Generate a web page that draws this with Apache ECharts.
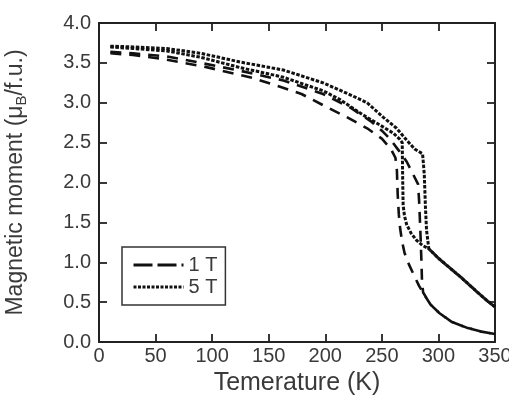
<!DOCTYPE html>
<html>
<head>
<meta charset="utf-8">
<title>Magnetic moment vs temperature</title>
<script src="https://cdn.jsdelivr.net/npm/echarts@6/dist/echarts.min.js"></script>
<style>
  html, body { margin: 0; padding: 0; background: #fff; }
  #chart { width: 509px; height: 397px; }
</style>
</head>
<body>
<div id="chart"></div>
<script>
// 1 T, cooling branch (lower dashed curve)
const temp1TCool = [10, 30, 60, 94, 136, 160, 179, 198, 219, 237, 250, 258, 262, 263.3, 264, 265, 266.2, 268, 270, 274, 278, 283, 288, 293, 301, 312, 325, 338, 350];
const moment1TCool = [3.62, 3.60, 3.54, 3.45, 3.31, 3.20, 3.11, 2.97, 2.82, 2.68, 2.55, 2.42, 2.31, 2.15, 1.85, 1.60, 1.42, 1.25, 1.12, 0.97, 0.85, 0.70, 0.58, 0.47, 0.36, 0.25, 0.18, 0.13, 0.10];

// 1 T, heating branch (upper dashed curve)
const temp1THeat = [10, 30, 60, 90, 125, 163, 198, 222, 240, 250, 257, 265, 272, 277, 282, 283, 284, 285, 285.5, 286.5, 293, 301, 312, 325, 338, 350];
const moment1THeat = [3.64, 3.62, 3.58, 3.50, 3.40, 3.28, 3.11, 2.94, 2.77, 2.65, 2.55, 2.40, 2.26, 2.12, 1.98, 1.75, 1.40, 1.00, 0.75, 0.62, 0.47, 0.36, 0.25, 0.18, 0.13, 0.10];

// 5 T, cooling branch
const temp5TCool = [10, 30, 60, 90, 125, 163, 198, 213, 233, 246, 260, 266, 268, 268.4, 268.8, 270, 272, 276, 281, 286, 291.5, 300, 310, 320, 334, 342, 350];
const moment5TCool = [3.70, 3.68, 3.65, 3.57, 3.44, 3.32, 3.15, 3.04, 2.85, 2.74, 2.62, 2.54, 2.50, 2.05, 1.72, 1.58, 1.47, 1.36, 1.27, 1.21, 1.17, 1.05, 0.93, 0.81, 0.63, 0.53, 0.44];

// 5 T, heating branch (top dotted curve)
const temp5THeat = [10, 30, 60, 90, 125, 163, 198, 222, 237, 251, 263, 272, 279, 286, 287.5, 288.5, 289.5, 291.5, 300, 310, 320, 334, 342, 350];
const moment5THeat = [3.71, 3.70, 3.68, 3.62, 3.51, 3.41, 3.25, 3.10, 3.00, 2.82, 2.68, 2.53, 2.42, 2.36, 2.10, 1.70, 1.40, 1.17, 1.05, 0.93, 0.81, 0.63, 0.53, 0.44];

const legendNames = ['1 T', '5 T'];

(function() {
  'use strict';

  const font = '"Liberation Sans", Arial, sans-serif';
  const ink = '#111';
  const textColor = '#3a3a3a';

  function zip(xs, ys) {
    return xs.map(function(x, i) { return [x, ys[i]]; });
  }

  const dashed = { color: ink, width: 2.6, type: [11, 8] };
  const dotted = { color: ink, width: 3, type: [3.5, 1.6] };

  function curve(name, xs, ys, style) {
    return {
      name: name,
      type: 'line',
      symbol: 'none',
      data: zip(xs, ys),
      lineStyle: style,
      itemStyle: { color: ink },
      z: 3
    };
  }

  // 刻度朝内，四边都有
  const tick = { show: true, inside: true, length: 8, lineStyle: { color: '#222', width: 1.8 } };
  const line = { show: true, onZero: false, lineStyle: { color: '#222', width: 2 } };
  const hidden = { color: 'rgba(0,0,0,0)', borderWidth: 0, opacity: 0 };

  const chart = echarts.init(document.getElementById('chart'));

  const option = {
    animation: false,
    backgroundColor: '#fff',
    grid: { left: 99, right: 14, top: 23, bottom: 55, outerBoundsMode: 'none', containLabel: false },
    legend: {
      orient: 'vertical',
      left: 122,
      top: 247,
      padding: [8, 8, 8, 10],
      itemWidth: 50,
      itemHeight: 14,
      itemGap: 2,
      borderColor: '#333',
      borderWidth: 1.5,
      textStyle: { fontSize: 20, fontFamily: font, color: textColor },
      data: [
        { name: legendNames[0], itemStyle: hidden, lineStyle: { width: 3, type: [19, 5] } },
        { name: legendNames[1], itemStyle: hidden, lineStyle: { width: 3, type: [3, 1.5] } }
      ]
    },
    xAxis: [{
      type: 'value',
      min: 0,
      max: 350,
      interval: 50,
      name: 'Temerature (K)',
      nameLocation: 'middle',
      nameGap: 28,
      nameTextStyle: { fontSize: 25, fontFamily: font, color: textColor },
      axisLine: line,
      axisTick: tick,
      splitLine: { show: false },
      axisLabel: { fontSize: 20, fontFamily: font, color: textColor, margin: 4 }
    }, {
      type: 'value',
      position: 'top',
      min: 0,
      max: 350,
      interval: 50,
      axisLine: line,
      axisTick: tick,
      splitLine: { show: false },
      axisLabel: { show: false }
    }],
    yAxis: [{
      type: 'value',
      min: 0,
      max: 4,
      interval: 0.5,
      name: '{a|Magnetic moment (μ}{b|B}{a|/f.u.)}',
      nameLocation: 'middle',
      nameRotate: 90,
      nameGap: 70,
      nameTextStyle: {
        fontSize: 23,
        fontFamily: font,
        color: textColor,
        rich: {
          a: { fontSize: 23, fontFamily: font, color: textColor, lineHeight: 26 },
          b: { fontSize: 15, fontFamily: font, color: textColor, lineHeight: 14, verticalAlign: 'bottom' }
        }
      },
      axisLine: line,
      axisTick: tick,
      splitLine: { show: false },
      axisLabel: {
        fontSize: 20,
        fontFamily: font,
        color: textColor,
        margin: 8,
        formatter: function(v) { return v.toFixed(1); }
      }
    }, {
      type: 'value',
      position: 'right',
      min: 0,
      max: 4,
      interval: 0.5,
      axisLine: line,
      axisTick: tick,
      splitLine: { show: false },
      axisLabel: { show: false }
    }],
    series: [
      curve(legendNames[0], temp1TCool, moment1TCool, dashed),
      curve(legendNames[0], temp1THeat, moment1THeat, dashed),
      curve(legendNames[1], temp5TCool, moment5TCool, dotted),
      curve(legendNames[1], temp5THeat, moment5THeat, dotted)
    ]
  };

  chart.setOption(option);

  window.addEventListener('resize', function() {
    chart.resize();
  });
})();
</script>
</body>
</html>
